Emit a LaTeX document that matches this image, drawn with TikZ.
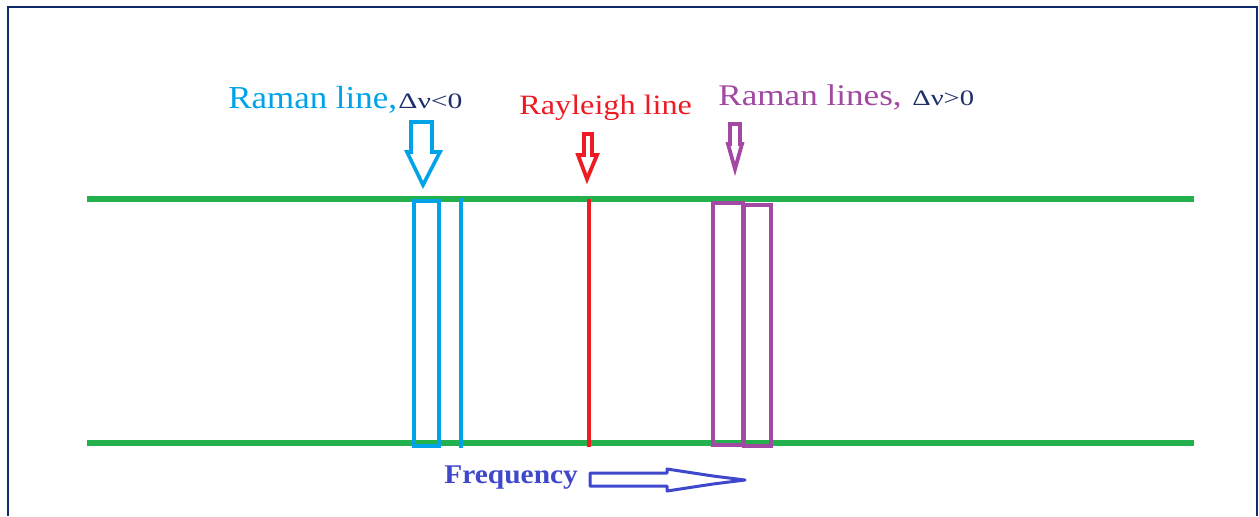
\documentclass[tikz,border=0pt]{standalone}
\usepackage{fontspec}
\setmainfont{Liberation Serif}
\definecolor{gline}{HTML}{22B14C}
\definecolor{cyanb}{HTML}{00A2E8}
\definecolor{redl}{HTML}{ED1C24}
\definecolor{purp}{HTML}{A349A4}
\definecolor{freqb}{HTML}{3F48CC}
\definecolor{navyt}{HTML}{1F2F6B}
\definecolor{framec}{HTML}{0F2A6B}
\begin{document}
\begin{tikzpicture}[x=0.5pt,y=-0.5pt,
  lbl/.style={inner sep=0pt,anchor=base west},
  band/.style={gline,line width=3pt},
  blk/.style={line width=1.8pt,line join=miter}]
\useasboundingbox (0,0) rectangle (1259,516);
\fill[white] (0,0) rectangle (1259,516);
% frame
\draw[framec,line width=1.3pt] (8,516) -- (8,7) -- (1257,7) -- (1257,516);
% green bands
\coordinate (t1) at (87,199); \coordinate (t2) at (1194,199);
\coordinate (b1) at (87,443); \coordinate (b2) at (1194,443);
\draw[band] (t1) -- (t2);
\draw[band] (b1) -- (b2);
% blue lines
\draw[cyanb,blk] (414,201) rectangle (439,446);
\draw[cyanb,line width=1.6pt] (461,198) -- (461,448);
% red line
\draw[redl,line width=1.7pt] (589,199) -- (589,447);
% purple
\draw[purp,blk] (713,203) rectangle (743,445);
\draw[purp,blk] (744,205) rectangle (771,446);
% labels
\node[lbl,cyanb] (rl) at (228,108) {\fontsize{16}{18}\selectfont\scalebox{1.09}[1]{Raman line,}};
\node[lbl,navyt] (d1) at (398,108) {\fontsize{11}{13}\selectfont\scalebox{1.35}[1]{Δν<0}};
\node[lbl,redl] (ray) at (519,114) {\fontsize{14}{16}\selectfont\scalebox{1.15}[1]{Rayleigh line}};
\node[lbl,purp] (rls) at (718,105) {\fontsize{15}{17}\selectfont\scalebox{1.17}[1]{Raman lines,}};
\node[lbl,navyt] (d2) at (912,105) {\fontsize{11}{13}\selectfont\scalebox{1.3}[1]{Δν>0}};
\node[lbl,freqb] (fq) at (444,483) {\fontsize{13.5}{15}\selectfont\bfseries\scalebox{1.09}[1]{Frequency}};
% block arrows
\draw[cyanb,line width=1.8pt,line join=miter] (411,122) -- (432,122) -- (432,152) -- (440,152) -- (423,185) -- (407,152) -- (411,152) -- cycle;
\draw[redl,line width=1.9pt,line join=miter] (584,134) -- (592,134) -- (592,155) -- (597,155) -- (587,179) -- (578,155) -- (584,155) -- cycle;
\draw[purp,line width=1.9pt,line join=miter] (730,124) -- (740,124) -- (740,144) -- (742,144) -- (735,169) -- (728,144) -- (730,144) -- cycle;
\draw[freqb,line width=1.5pt,line join=round] (590,473) -- (667,473) -- (667,469) -- (713,476) -- (745,480) -- (713,484) -- (667,491) -- (667,486) -- (590,486) -- cycle;
\end{tikzpicture}
\end{document}
